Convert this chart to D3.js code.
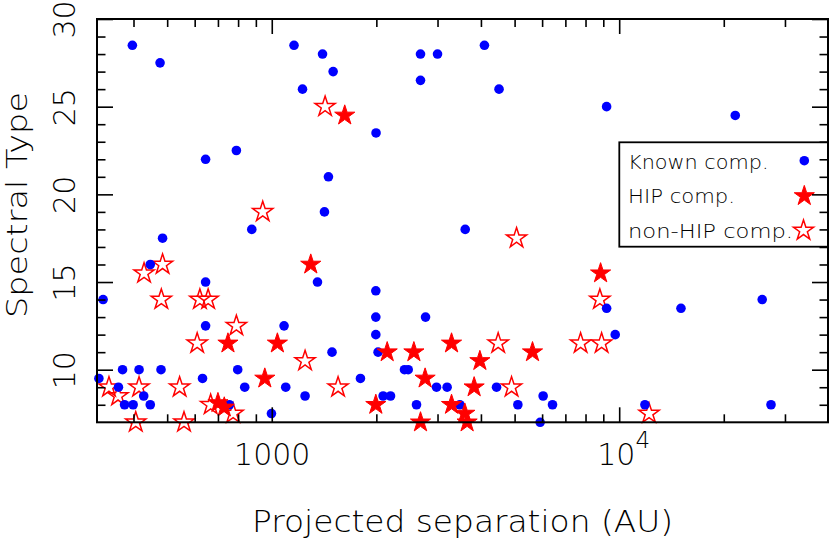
<!DOCTYPE html>
<html>
<head>
<meta charset="utf-8">
<script src="https://cdn.jsdelivr.net/npm/d3@7"></script>
<style>
  html, body { margin: 0; padding: 0; background: #fff; }
  svg { display: block; font-family: "DejaVu Sans ExtraLight", "DejaVu Sans", sans-serif; font-weight: 200; }
</style>
</head>
<body>
<svg id="chart" width="830" height="540"></svg>
<script>
// ---- data: [projected separation (AU), spectral type] ----
const knownComp = [
  [397, 28.5], [477, 27.5], [1159, 28.5], [1400, 28], [1502, 27], [1226, 26],
  [645, 22], [791, 22.5], [1456, 21], [1418, 19], [1996, 23.5], [2680, 28],
  [3000, 28], [2680, 26.5], [4094, 28.5], [4510, 26], [9200, 25], [21580, 24.5],
  [15060, 13.5], [25800, 14], [27350, 8], [11860, 8], [327, 14], [485, 17.5],
  [447, 16], [645, 15], [645, 12.5], [876, 18], [1354, 15], [1085, 12.5],
  [1491, 11], [1993, 14.5], [1993, 13], [1993, 12], [2023, 11], [318, 9.5],
  [372, 10], [415, 10], [480, 10], [362, 9], [377, 8], [399, 8], [428, 8.5],
  [447, 8], [632, 9.5], [798, 10], [836, 9], [1097, 9], [1247, 8.5], [1800, 9.5],
  [998, 7.5], [755, 8], [3604, 18], [2771, 13], [2410, 10], [2470, 10],
  [2092, 8.5], [2197, 8.5], [2610, 8], [2980, 9], [3197, 9], [3478, 8],
  [4436, 9], [5109, 8], [5922, 7], [6041, 8.5], [6428, 8], [9200, 13.5], [9740, 12]
];
const hipComp = [
  [1622, 24.5], [1295, 16], [748, 11.5], [1038, 11.5], [955, 9.5], [700, 8.1],
  [730, 7.85], [1993, 8], [2149, 11], [2565, 11], [3292, 11.5], [3972, 10.5],
  [2763, 9.5], [3824, 9], [5630, 11], [8840, 15.5], [2680, 7], [3292, 8],
  [3595, 7.5], [3650, 7]
];
const nonHipComp = [
  [1424, 25], [942, 19], [429, 15.5], [485, 16], [481, 14], [621, 14], [656, 14],
  [791, 12.5], [610, 11.5], [1247, 10.5], [340, 9], [361, 8.5], [415, 9], [543, 9],
  [406, 7], [559, 7], [667, 8], [774, 7.5], [1552, 9], [5065, 17.5], [4484, 11.5],
  [4900, 9], [7743, 11.5], [8900, 11.5], [8798, 14], [12190, 7.5]
];
const xMajorTicks = [1000, 10000];
const xMinorTicks = [400, 500, 600, 700, 800, 900, 2000, 3000, 4000, 5000, 6000, 7000, 8000, 9000, 20000, 30000];
const yMajorTicks = [10, 15, 20, 25, 30];
const yMinorTicks = [8, 9, 11, 12, 13, 14, 16, 17, 18, 19, 21, 22, 23, 24, 26, 27, 28, 29];
const xDomain = [Math.pow(10, 2.497), Math.pow(10, 4.601)];
const yDomain = [7, 30];
const legendItems = ["Known comp.", "HIP comp.", "non-HIP comp."];
const xTitle = "Projected separation (AU)";
const yTitle = "Spectral Type";

// ---- layout ----
const L = 97, R = 828, T = 19, B = 422.3;
const svg = d3.select("#chart");
const x = d3.scaleLog().domain(xDomain).range([L, R]);
const y = d3.scaleLinear().domain(yDomain).range([B, T]);

function starPath(Ro) {
  const ri = Ro * 0.382;
  const pts = [];
  for (let i = 0; i < 10; i++) {
    const r = i % 2 === 0 ? Ro : ri;
    const a = -Math.PI / 2 + i * Math.PI / 5;
    pts.push([r * Math.cos(a), r * Math.sin(a)]);
  }
  return "M" + pts.map(p => p[0].toFixed(2) + "," + p[1].toFixed(2)).join("L") + "Z";
}
const STAR_R = 10.6;

// ---- marks ----
const marks = svg.append("g");
marks.selectAll("path.open").data(nonHipComp).join("path")
  .attr("class", "open")
  .attr("d", starPath(STAR_R))
  .attr("transform", d => `translate(${x(d[0])},${y(d[1])})`)
  .attr("fill", "none").attr("stroke", "#ff0000").attr("stroke-width", 1.5)
  .attr("stroke-linejoin", "miter");
marks.selectAll("circle").data(knownComp).join("circle")
  .attr("cx", d => x(d[0])).attr("cy", d => y(d[1])).attr("r", 4.8)
  .attr("fill", "#0000ff");
marks.selectAll("path.filled").data(hipComp).join("path")
  .attr("class", "filled")
  .attr("d", starPath(STAR_R))
  .attr("transform", d => `translate(${x(d[0])},${y(d[1])})`)
  .attr("fill", "#ff0000").attr("stroke", "#ff0000").attr("stroke-width", 1);

// ---- legend ----
const lg = svg.append("g");
lg.append("rect").attr("x", 619.3).attr("y", 142.3).attr("width", R - 619.3).attr("height", 104.4)
  .attr("fill", "none").attr("stroke", "#000").attr("stroke-width", 1.8);
const legendWidths = [140.6, 107, 165];
const legendBase = [169, 203.3, 237.5];
legendItems.forEach((t, i) => {
  lg.append("text").attr("x", 628).attr("y", legendBase[i])
    .attr("font-size", 19.5).attr("fill", "#000")
    .attr("textLength", legendWidths[i]).attr("lengthAdjust", "spacingAndGlyphs")
    .text(t);
});
lg.append("circle").attr("cx", 804.3).attr("cy", 160.7).attr("r", 4.8).attr("fill", "#0000ff");
lg.append("path").attr("d", starPath(STAR_R)).attr("transform", "translate(804.3,196)")
  .attr("fill", "#ff0000").attr("stroke", "#ff0000").attr("stroke-width", 1);
lg.append("path").attr("d", starPath(STAR_R)).attr("transform", "translate(803.5,230.5)")
  .attr("fill", "none").attr("stroke", "#ff0000").attr("stroke-width", 1.5);

// ---- axes (ticks inward) ----
function styleAxis(g) {
  g.select(".domain").remove();
  g.selectAll(".tick line").attr("stroke", "#000").attr("stroke-width", 1.6);
}
const fmtX = d => d === 1000 ? "1000" : "";
const FONT = "DejaVu Sans ExtraLight, DejaVu Sans, sans-serif";
// bottom
svg.append("g").attr("transform", `translate(0,${B})`)
  .call(d3.axisBottom(x).tickValues(xMinorTicks).tickSize(-8).tickFormat(""))
  .call(styleAxis);
const xb = svg.append("g").attr("transform", `translate(0,${B})`)
  .call(d3.axisBottom(x).tickValues(xMajorTicks).tickSize(-15).tickFormat(fmtX))
  .call(styleAxis);
xb.selectAll(".tick text")
  .attr("y", 42.7).attr("dy", 0).attr("font-size", 30).attr("fill", "#000")
  .attr("font-family", FONT).attr("font-weight", 200)
  .each(function (d) {
    if (d === 10000) {
      const t = d3.select(this);
      t.text("");
      t.append("tspan").text("10");
      t.append("tspan").attr("font-size", 23).attr("dy", -17).text("4");
      t.attr("x", 4);
    }
  });
// top
svg.append("g").attr("transform", `translate(0,${T})`)
  .call(d3.axisTop(x).tickValues(xMinorTicks).tickSize(-8).tickFormat(""))
  .call(styleAxis);
svg.append("g").attr("transform", `translate(0,${T})`)
  .call(d3.axisTop(x).tickValues(xMajorTicks).tickSize(-15).tickFormat(""))
  .call(styleAxis);
// left
svg.append("g").attr("transform", `translate(${L},0)`)
  .call(d3.axisLeft(y).tickValues(yMinorTicks).tickSize(-8.5).tickFormat(""))
  .call(styleAxis);
const yl = svg.append("g").attr("transform", `translate(${L},0)`)
  .call(d3.axisLeft(y).tickValues(yMajorTicks).tickSize(-16).tickFormat(d3.format("d")))
  .call(styleAxis);
yl.selectAll(".tick text")
  .attr("x", 0).attr("y", 0).attr("dy", 0)
  .attr("text-anchor", "middle").attr("font-size", 30).attr("fill", "#000")
  .attr("font-family", FONT).attr("font-weight", 200)
  .attr("transform", "translate(-22,0) rotate(-90)");
// right
svg.append("g").attr("transform", `translate(${R},0)`)
  .call(d3.axisRight(y).tickValues(yMinorTicks).tickSize(-8.5).tickFormat(""))
  .call(styleAxis);
svg.append("g").attr("transform", `translate(${R},0)`)
  .call(d3.axisRight(y).tickValues(yMajorTicks).tickSize(-16).tickFormat(""))
  .call(styleAxis);

// frame
svg.append("rect").attr("x", L).attr("y", T).attr("width", R - L).attr("height", B - T)
  .attr("fill", "none").attr("stroke", "#000").attr("stroke-width", 2);

// ---- titles ----
svg.append("text").attr("x", (L + R) / 2).attr("y", 532).attr("text-anchor", "middle")
  .attr("font-size", 30).attr("fill", "#000")
  .attr("textLength", 421).attr("lengthAdjust", "spacingAndGlyphs")
  .text(xTitle);
svg.append("text").attr("transform", "translate(27,205) rotate(-90)").attr("text-anchor", "middle")
  .attr("font-size", 28).attr("fill", "#000")
  .attr("textLength", 226).attr("lengthAdjust", "spacingAndGlyphs")
  .text(yTitle);
</script>
</body>
</html>
